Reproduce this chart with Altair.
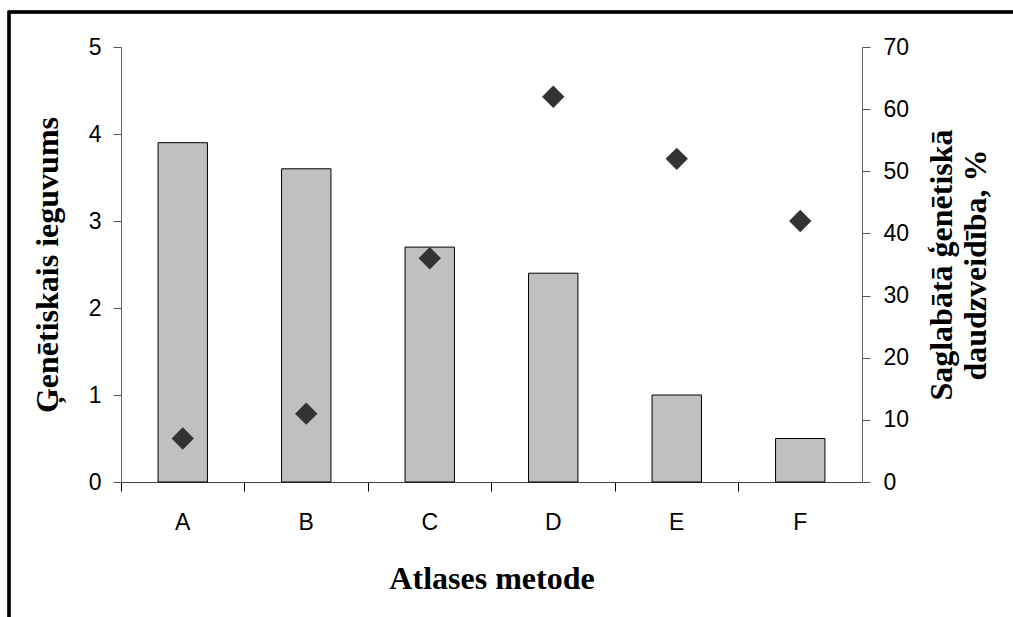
import altair as alt
import pandas as pd

methods = ["A", "B", "C", "D", "E", "F"]
gain = [3.9, 3.6, 2.7, 2.4, 1.0, 0.5]
diversity = [7, 11, 36, 62, 52, 42]

df = pd.DataFrame({"method": methods, "gain": gain, "diversity": diversity})

W, H = 741, 435
PL, PT = 121, 47
TITLE_FS = 32

x_enc = alt.X(
    "method:N",
    sort=methods,
    scale=alt.Scale(paddingInner=0, paddingOuter=0),
    axis=alt.Axis(
        title="Atlases metode",
        titleFont="Liberation Serif",
        titleFontSize=TITLE_FS,
        titleFontWeight="bold",
        titleColor="black",
        titlePadding=29,
        labelAngle=0,
        labelFont="Liberation Sans",
        labelFontSize=23,
        labelColor="black",
        labelPadding=20,
        bandPosition=0,
        tickSize=9,
        tickColor="black",
        domainColor="#444444",
    ),
)

bars = alt.Chart(df).mark_bar(
    color="#C0C0C0", stroke="black", strokeWidth=1, width=alt.RelativeBandSize(0.4)
).encode(
    x=x_enc,
    y=alt.Y(
        "gain:Q",
        scale=alt.Scale(domain=[0, 5]),
        axis=alt.Axis(
            title="Ģenētiskais ieguvums",
            titleFont="Liberation Serif",
            titleFontSize=TITLE_FS,
            titleFontWeight="bold",
            titleColor="black",
            titlePadding=24,
            values=[0, 1, 2, 3, 4, 5],
            labelFont="Liberation Sans",
            labelFontSize=23,
            labelColor="black",
            labelPadding=12,
            tickSize=8,
            tickColor="#555555",
            domainColor="#666666",
            grid=False,
        ),
    ),
)

points = alt.Chart(df).mark_point(
    shape="diamond", filled=True, color="#333333", size=500, opacity=1
).encode(
    x=alt.X("method:N", sort=methods),
    y=alt.Y(
        "diversity:Q",
        scale=alt.Scale(domain=[0, 70]),
        axis=alt.Axis(
            orient="right",
            title=["Saglabātā ģenētiskā", "daudzveidība, %"],
            titleFont="Liberation Serif",
            titleFontSize=TITLE_FS,
            titleFontWeight="bold",
            titleColor="black",
            titleAngle=270,
            titlePadding=16,
            values=[0, 10, 20, 30, 40, 50, 60, 70],
            labelFont="Liberation Sans",
            labelFontSize=23,
            labelColor="black",
            labelPadding=13,
            tickSize=8,
            tickColor="#555555",
            domainColor="#666666",
            grid=False,
        ),
    ),
)

frame = alt.Chart(df).mark_rect(fill=None, stroke="black", strokeWidth=2.5).encode(
    x=alt.value(9 - PL),
    x2=alt.value(1013 - PL + 20),
    y=alt.value(12 - PT),
    y2=alt.value(617 - PT + 20),
)

chart = (
    alt.layer(bars, points, frame)
    .resolve_scale(y="independent")
    .properties(
        width=W,
        height=H,
        autosize=alt.AutoSizeParams(type="none"),
        padding={"left": PL, "top": PT, "right": 1013 - PL - W, "bottom": 617 - PT - H},
        background="white",
    )
    .configure_view(stroke=None)
)

chart.save("out.html", embed_options={"renderer": "svg", "actions": False})
